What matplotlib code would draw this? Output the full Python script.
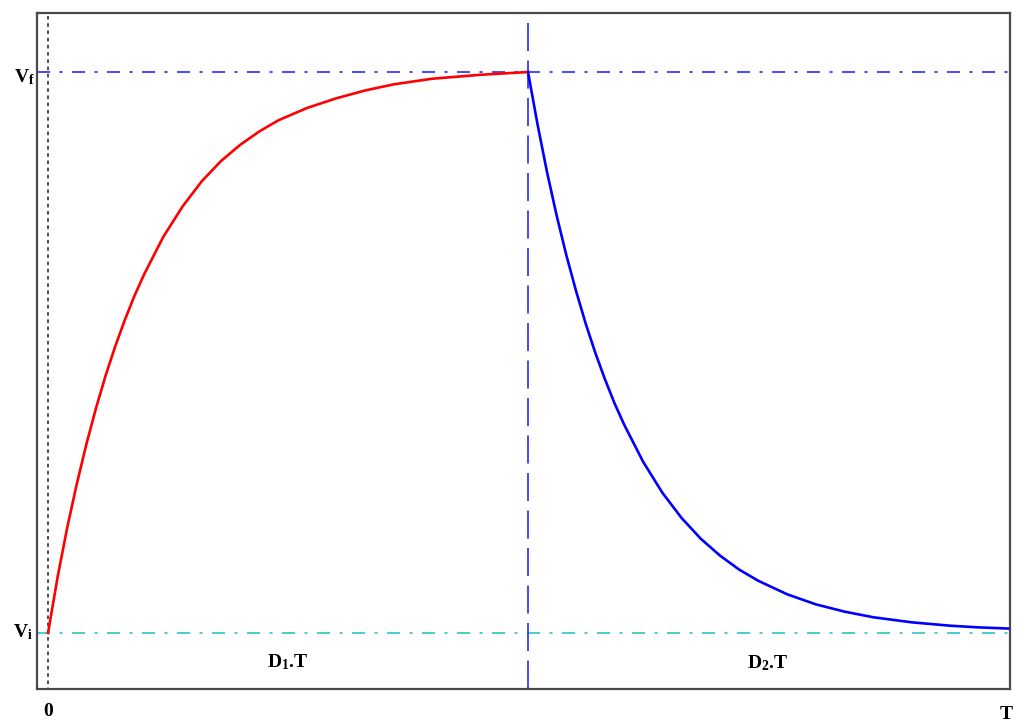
import numpy as np
import matplotlib
matplotlib.use('Agg')
import matplotlib.pyplot as plt

plt.rcParams['font.family'] = ['Liberation Serif', 'DejaVu Serif']
plt.rcParams['font.weight'] = 'bold'
plt.rcParams['mathtext.fontset'] = 'custom'
plt.rcParams['mathtext.rm'] = 'Liberation Serif:bold'
plt.rcParams['mathtext.it'] = 'Liberation Serif:bold'
plt.rcParams['mathtext.bf'] = 'Liberation Serif:bold'
plt.rcParams['lines.scale_dashes'] = False

# levels and switching instants (period T = 1)
Vi = 0.0
Vf = 1.0
D1 = 0.5
T = 1.0

# charging phase (0 .. D1.T)
t_rise = [0.0, 0.01, 0.02, 0.03, 0.04, 0.05, 0.06, 0.07, 0.08, 0.09, 0.10,
          0.12, 0.14, 0.16, 0.18, 0.20, 0.22, 0.24, 0.27, 0.30, 0.33, 0.36,
          0.40, 0.45, 0.50]
v_rise = [0.0, 0.100, 0.188, 0.266, 0.337, 0.401, 0.459, 0.511, 0.558, 0.601, 0.639,
          0.706, 0.760, 0.805, 0.841, 0.870, 0.894, 0.914, 0.936, 0.953, 0.967, 0.978,
          0.988, 0.995, 1.0]

# discharging phase (D1.T .. T)
t_fall = [0.50, 0.51, 0.52, 0.53, 0.54, 0.55, 0.56, 0.57, 0.58, 0.59, 0.60,
          0.62, 0.64, 0.66, 0.68, 0.70, 0.72, 0.74, 0.77, 0.80, 0.83, 0.86,
          0.90, 0.94, 0.97, 1.0]
v_fall = [1.0, 0.906, 0.820, 0.743, 0.673, 0.610, 0.552, 0.500, 0.453, 0.410, 0.372,
          0.305, 0.250, 0.205, 0.168, 0.138, 0.113, 0.093, 0.069, 0.051, 0.038, 0.028,
          0.019, 0.013, 0.010, 0.008]

fig = plt.figure(figsize=(10.24, 7.27), dpi=100)
ax = fig.add_axes([37 / 1024, 1 - 689 / 727, 973 / 1024, 676 / 727])
x0, x1 = -0.0115, 1.0021
y0, y1 = -0.0998, 1.1052
ax.set_xlim(x0, x1)
ax.set_ylim(y0, y1)

# guide lines
dashdot = (0, (9.4, 6.8, 2.2, 6.8))
ax.plot([x0, T], [Vf, Vf], color='#3c3cff', lw=1.3, linestyle=dashdot, zorder=1)
ax.plot([x0, T], [Vi, Vi], color='#3cc8c8', lw=1.3, linestyle=dashdot, zorder=1)
ax.plot([D1, D1], [1.087, y0], color='#2828ff', lw=1.2, linestyle=(0, (20.2, 6.8)), zorder=1)
ax.plot([0, 0], [1.1, y0], color='#303030', lw=1.2, linestyle=(0, (2.6, 2.6)), zorder=1)

ax.plot(t_rise, v_rise, color='#ff0000', lw=1.9, solid_joinstyle='round', zorder=3)
ax.plot(t_fall, v_fall, color='#0000ff', lw=1.9, solid_joinstyle='round', zorder=3)

for s in ax.spines.values():
    s.set_color('#4a4a4a')
    s.set_linewidth(1.6)
ax.set_xticks([])
ax.set_yticks([])

fs = 14
ax.annotate(r'$V_f$', xy=(0, Vf), xycoords=('axes fraction', 'data'),
            xytext=(-1.5, -7.2), textcoords='offset points', ha='right', va='baseline', fontsize=fs)
ax.annotate(r'$V_i$', xy=(0, Vi), xycoords=('axes fraction', 'data'),
            xytext=(-3.5, -2.9), textcoords='offset points', ha='right', va='baseline', fontsize=fs)
ax.annotate('0', xy=(0, 0), xycoords=('data', 'axes fraction'),
            xytext=(0, -19.5), textcoords='offset points', ha='center', va='baseline', fontsize=fs)
ax.annotate('T', xy=(T, 0), xycoords=('data', 'axes fraction'),
            xytext=(-1, -21.5), textcoords='offset points', ha='center', va='baseline', fontsize=fs)
ax.text(D1 / 2, -0.0606, 'D$_1$.T', ha='center', va='baseline', fontsize=fs)
ax.text(D1 + (T - D1) / 2, -0.0624, 'D$_2$.T', ha='center', va='baseline', fontsize=fs)

fig.savefig('out.png', dpi=100, facecolor='white')
